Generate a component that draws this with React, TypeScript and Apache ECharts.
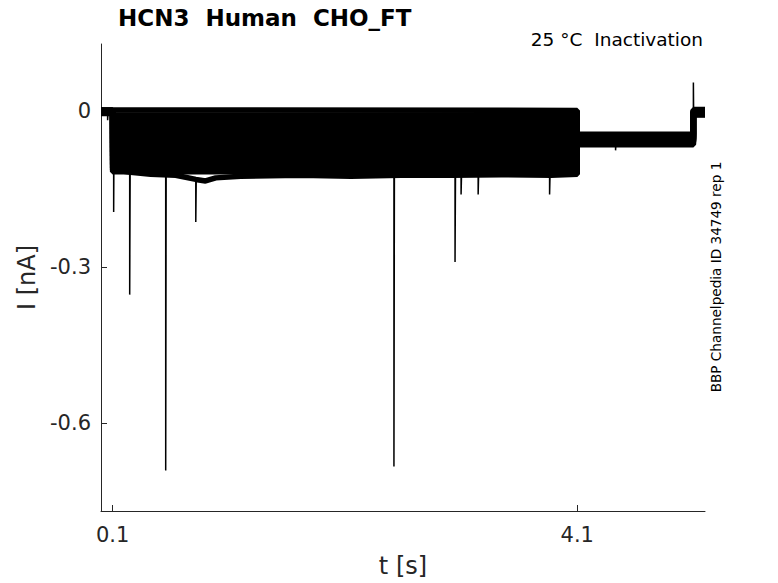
import React, { useEffect, useRef } from "react";
import * as echarts from "echarts";

// ---- data ----
const xTicks = [0.1, 4.1];
const yTicks = [-0.6, -0.3, 0];

// holding / step / tail / post levels per sweep (nA)
const preLevels = [0.003, 0.003, 0.002, 0.002, 0.001, 0.001, 0.0, 0.0, -0.001, -0.001, -0.002, -0.002, -0.003, -0.003, -0.004];
const stepLevels = [0.002, -0.007, -0.016, -0.025, -0.034, -0.043, -0.052, -0.061, -0.07, -0.078, -0.086, -0.094, -0.102, -0.109, -0.116];
const tailLevels = [-0.044, -0.046, -0.048, -0.049, -0.051, -0.052, -0.053, -0.054, -0.055, -0.056, -0.057, -0.059, -0.06, -0.062, -0.064];
const postLevels = [0.004, 0.003, 0.002, 0.002, 0.001, 0.0, 0.0, -0.001, -0.001, -0.002, -0.003, -0.004, -0.005, -0.006, -0.007];

// deepest sweep during the step (hand-read bottom edge)
const bottomPre = -0.002;
const bottomTail = -0.058;
const bottomPost = -0.003;
const bottomT = [0.1, 0.126, 0.255, 0.428, 0.643, 0.816, 0.9, 0.988, 1.203, 1.72, 2.151, 2.582, 3.014, 3.445, 3.876, 4.1];
const bottomI = [-0.113, -0.113, -0.117, -0.121, -0.123, -0.131, -0.134, -0.128, -0.125, -0.123, -0.125, -0.123, -0.123, -0.122, -0.123, -0.121];

// brief transients: time, baseline, peak
const spikeT = [0.057, 0.109, 0.247, 0.557, 0.816, 2.522, 3.048, 3.1, 3.247, 3.862, 4.43, 5.1];
const spikeBase = [0.0, -0.01, -0.12, -0.12, -0.13, -0.122, -0.122, -0.122, -0.122, -0.122, -0.06, -0.056];
const spikePeak = [-0.017, -0.194, -0.353, -0.692, -0.213, -0.684, -0.29, -0.16, -0.16, -0.16, -0.075, 0.056];

const T_STEP_ON = 0.1;
const T_STEP_OFF = 4.1;
const T_TAIL_OFF = 5.1;
const T_END = 5.2;

function sweep(pre: number, stepPart: number[][], tail: number, post: number) {
  return [
    [0, pre],
    [T_STEP_ON, pre],
    ...stepPart,
    [T_STEP_OFF, tail],
    [T_TAIL_OFF, tail],
    [T_TAIL_OFF, post],
    [T_END, post],
  ];
}

export default function App() {
  const ref = useRef<HTMLDivElement>(null);

  useEffect(() => {
    if (!ref.current) return;
    const chart = echarts.init(ref.current, undefined, { renderer: "svg" });

    const traceStyle = { color: "#000", width: 5.5 };
    const series: any[] = [];
    for (let i = 0; i < stepLevels.length; i++) {
      series.push({
        type: "line",
        data: sweep(
          preLevels[i],
          [
            [T_STEP_ON, stepLevels[i]],
            [T_STEP_OFF, stepLevels[i]],
          ],
          tailLevels[i],
          postLevels[i]
        ),
        symbol: "none",
        lineStyle: traceStyle,
        silent: true,
      });
    }
    series.push({
      type: "line",
      data: sweep(
        bottomPre,
        bottomT.map((t, k) => [t, bottomI[k]]),
        bottomTail,
        bottomPost
      ),
      symbol: "none",
      lineStyle: traceStyle,
      silent: true,
    });
    for (let k = 0; k < spikeT.length; k++) {
      series.push({
        type: "line",
        data: [
          [spikeT[k], spikeBase[k]],
          [spikeT[k], spikePeak[k]],
          [spikeT[k] + 0.004, spikeBase[k]],
        ],
        symbol: "none",
        lineStyle: { color: "#000", width: 1.5 },
        silent: true,
      });
    }

    const axisColor = "#262626";
    chart.setOption({
      animation: false,
      textStyle: { fontFamily: "DejaVu Sans" },
      title: {
        text: "HCN3  Human  CHO_FT",
        left: 113,
        top: 1,
        textStyle: { fontFamily: "DejaVu Sans", fontWeight: "bold", fontSize: 23, color: "#000" },
      },
      grid: { left: 101, top: 44, right: 73, bottom: 71, containLabel: false },
      xAxis: {
        type: "value",
        min: 0,
        max: T_END,
        name: "t [s]",
        nameLocation: "middle",
        nameGap: 43,
        nameTextStyle: { fontSize: 24, color: axisColor, fontFamily: "DejaVu Sans" },
        axisLine: { show: true, onZero: false, lineStyle: { color: axisColor, width: 1 } },
        axisTick: { show: true, inside: true, length: 6, customValues: xTicks, lineStyle: { color: axisColor } },
        axisLabel: {
          customValues: xTicks,
          formatter: (v: number) => v.toFixed(1),
          fontSize: 21,
          color: axisColor,
          margin: 13,
          fontFamily: "DejaVu Sans",
        },
        splitLine: { show: false },
      },
      yAxis: {
        type: "value",
        min: -0.77,
        max: 0.13,
        name: "I [nA]",
        nameLocation: "middle",
        nameGap: 58,
        nameRotate: 90,
        nameTextStyle: { fontSize: 24, color: axisColor, fontFamily: "DejaVu Sans" },
        axisLine: { show: true, onZero: false, lineStyle: { color: axisColor, width: 1 } },
        axisTick: { show: true, inside: true, length: 6, customValues: yTicks, lineStyle: { color: axisColor } },
        axisLabel: {
          customValues: yTicks,
          formatter: (v: number) => (Math.abs(v) < 1e-9 ? "0" : v.toFixed(1)),
          fontSize: 21,
          color: axisColor,
          margin: 10,
          fontFamily: "DejaVu Sans",
        },
        splitLine: { show: false },
      },
      graphic: [
        {
          type: "text",
          right: 75,
          top: 30,
          style: { text: "25 °C  Inactivation", fontSize: 18.5, fill: "#000", fontFamily: "DejaVu Sans" },
        },
        {
          type: "text",
          x: 716,
          y: 277,
          rotation: Math.PI / 2,
          style: {
            text: "BBP Channelpedia ID 34749 rep 1",
            fontSize: 13.6,
            fill: "#000",
            fontFamily: "DejaVu Sans",
            align: "center",
            verticalAlign: "middle",
          },
        },
      ],
      series,
    });

    return () => chart.dispose();
  }, []);

  return (
    <div
      ref={ref}
      style={{ position: "fixed", left: 0, top: 0, width: 778, height: 583, background: "#fff" }}
    />
  );
}
